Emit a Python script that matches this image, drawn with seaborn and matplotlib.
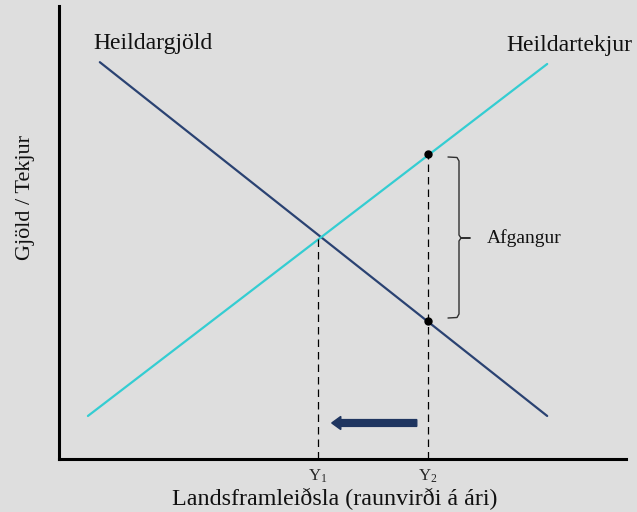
import matplotlib
matplotlib.use("Agg")
import matplotlib.pyplot as plt
import seaborn as sns
import pandas as pd
from matplotlib.lines import Line2D

# ---- data (abstract units, 0..100 on both axes) ----
gjold_x = [7.2, 86.1]
gjold_y = [87.6, 9.5]
tekjur_x = [5.1, 86.1]
tekjur_y = [9.5, 87.2]
y_levels_x = [45.7, 65.1]          # Y1, Y2
y_tick_labels = [r"$\mathrm{Y}_{1}$", r"$\mathrm{Y}_{2}$"]
dash_tops = [49.0, 67.3]           # where the dashed guides end
dot_x = [65.1, 65.1]
dot_y = [67.3, 30.5]
arrow_tail = 63.1
arrow_tip = 48.1
arrow_y = 7.95

series_names = ["Heildargjöld", "Heildartekjur"]
colors = {"Heildargjöld": "#2a4272", "Heildartekjur": "#34cdd2"}

df = pd.DataFrame({
    "x": gjold_x + tekjur_x,
    "y": gjold_y + tekjur_y,
    "series": [series_names[0]] * 2 + [series_names[1]] * 2,
})

sns.set_theme(style="white")
plt.rcParams["font.family"] = ["Liberation Serif", "DejaVu Serif"]
plt.rcParams["mathtext.fontset"] = "custom"
plt.rcParams["mathtext.rm"] = "Liberation Serif"
plt.rcParams["mathtext.it"] = "Liberation Serif:italic"

bg = "#dedede"
fig = plt.figure(figsize=(6.37, 5.12), dpi=100, facecolor=bg)
ax = fig.add_axes([59 / 637, 1 - 459 / 512, 567 / 637, 453 / 512])
ax.set_facecolor(bg)

sns.lineplot(data=df, x="x", y="y", hue="series", palette=colors,
             linewidth=1.6, legend=False, ax=ax)

# dashed guides
for xv, top in zip(y_levels_x, dash_tops):
    ax.plot([xv, xv], [0, top], color="black", lw=0.9, ls=(0, (6, 4)))

# dots
ax.plot(dot_x, dot_y, "o", color="black", ms=5, zorder=5)

# arrow
ax.arrow(arrow_tail, arrow_y, arrow_tip - arrow_tail, 0, width=1.5,
         head_width=2.9, head_length=1.6, length_includes_head=True,
         color="#1f3560", zorder=4)

# bracket (pixels -> data)
def px(xp, yp):
    return ((xp - 59) / 5.67, (459 - yp) / 4.53)

br = [px(448, 157), px(457, 157.5), px(459, 161), px(459, 235),
      px(461, 238), px(470, 238), px(461, 238), px(459, 241),
      px(459, 314), px(457, 317.5), px(448, 318)]
ax.add_line(Line2D([p[0] for p in br], [p[1] for p in br],
                   color="#303030", lw=1.0))

# texts
ax.text(*px(487, 238), "Afgangur", fontsize=14, va="center", ha="left",
        color="#111111")
ax.text(*px(93, 44), series_names[0], fontsize=17, va="center", ha="left",
        color="#111111")
ax.text(*px(632, 45), series_names[1], fontsize=17, va="center", ha="right",
        color="#111111")

ax.set_xlim(0, 100)
ax.set_ylim(0, 100)
ax.set_xticks(y_levels_x)
ax.set_xticklabels(y_tick_labels, fontsize=12)
ax.tick_params(axis="x", length=0, pad=6)
ax.set_yticks([])

ax.set_xlabel("Landsframleiðsla (raunvirði á ári)", fontsize=17.3,
              color="#111111")
ax.xaxis.set_label_coords((335 - 59) / 567, -0.064)
ax.set_ylabel("Gjöld / Tekjur", fontsize=16, color="#111111")
ax.yaxis.set_label_coords(-0.043, 0.578)

for s in ["top", "right"]:
    ax.spines[s].set_visible(False)
for s in ["left", "bottom"]:
    ax.spines[s].set_color("black")
    ax.spines[s].set_linewidth(2.2)

fig.savefig("out.png", dpi=100, facecolor=bg)
